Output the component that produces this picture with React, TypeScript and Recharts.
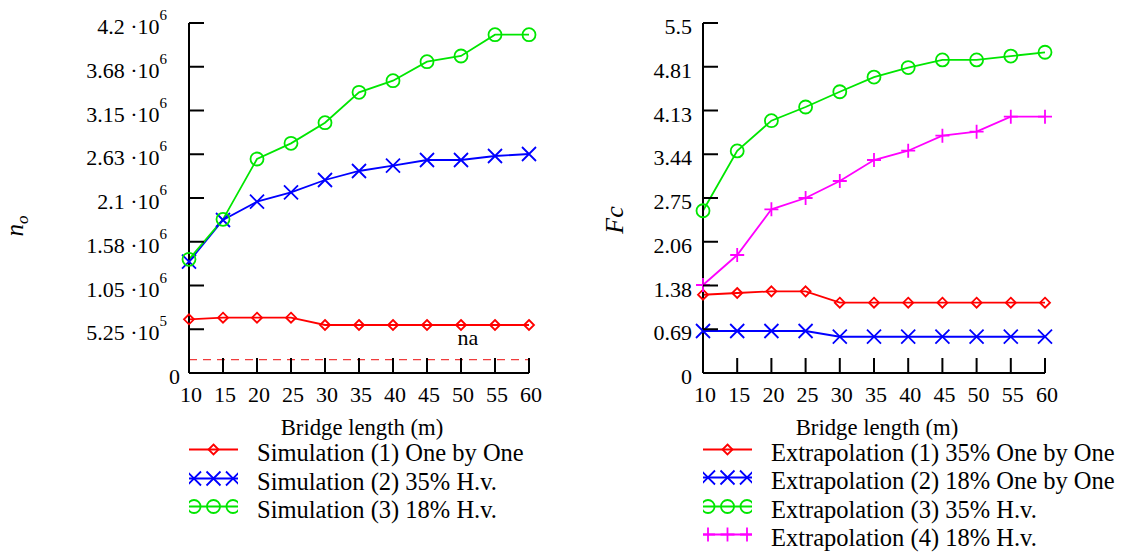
import React from 'react';
import { LineChart, Line, XAxis, YAxis, Legend, ReferenceLine } from 'recharts';

const bridgeLengths = [10, 15, 20, 25, 30, 35, 40, 45, 50, 55, 60];

// left panel, n_o
const simOneByOne = [644000, 664000, 664000, 664000, 576000, 576000, 576000, 576000, 576000, 576000, 576000];
const sim35Hv = [1336000, 1836000, 2056000, 2168000, 2316000, 2424000, 2488000, 2556000, 2556000, 2604000, 2628000];
const sim18Hv = [1364000, 1844000, 2568000, 2756000, 3004000, 3368000, 3508000, 3736000, 3804000, 4060000, 4060000];
const naLevel = 160000;

// right panel, Fc
const ext35OneByOne = [1.23, 1.257, 1.283, 1.283, 1.105, 1.105, 1.105, 1.105, 1.105, 1.105, 1.105];
const ext18OneByOne = [0.66, 0.66, 0.66, 0.66, 0.57, 0.57, 0.57, 0.57, 0.57, 0.57, 0.57];
const ext35Hv = [2.55, 3.49, 3.965, 4.18, 4.42, 4.65, 4.8, 4.92, 4.92, 4.98, 5.04];
const ext18Hv = [1.383, 1.854, 2.572, 2.75, 3.017, 3.347, 3.493, 3.729, 3.792, 4.028, 4.028];

const noTicks = [0, 525000, 1050000, 1575000, 2100000, 2625000, 3150000, 3675000, 4200000];
const noTickMantissas = ['0', '5.25', '1.05', '1.58', '2.1', '2.63', '3.15', '3.68', '4.2'];
const noTickExponents = ['', '5', '6', '6', '6', '6', '6', '6', '6'];
const fcTicks = [0, 0.6875, 1.375, 2.0625, 2.75, 3.4375, 4.125, 4.8125, 5.5];
const fcTickLabels = ['0', '0.69', '1.38', '2.06', '2.75', '3.44', '4.13', '4.81', '5.5'];

const leftData = bridgeLengths.map((len, i) => ({ len, s1: simOneByOne[i], s2: sim35Hv[i], s3: sim18Hv[i] }));
const rightData = bridgeLengths.map((len, i) => ({
  len, e1: ext35OneByOne[i], e2: ext18OneByOne[i], e3: ext35Hv[i], e4: ext18Hv[i],
}));

const FONT = 'Liberation Serif, DejaVu Serif, serif';
const RED = '#ff0000';
const BLUE = '#0000ff';
const GREEN = '#00e600';
const MAGENTA = '#ff00ff';
const TICK_LEN = 15;

const markerOf: Record<string, string> = {
  s1: 'diamond', s2: 'cross', s3: 'circle',
  e1: 'diamond', e2: 'cross', e3: 'circle', e4: 'plus',
};

function Mark({ kind, cx, cy, color }: any) {
  if (cx == null || cy == null) return <g />;
  const sw = 1.8;
  if (kind === 'diamond') {
    const h = 5;
    return <path d={`M${cx},${cy - h}L${cx + h},${cy}L${cx},${cy + h}L${cx - h},${cy}Z`} fill="none" stroke={color} strokeWidth={sw} />;
  }
  if (kind === 'cross') {
    const h = 7;
    return <path d={`M${cx - h},${cy - h}L${cx + h},${cy + h}M${cx - h},${cy + h}L${cx + h},${cy - h}`} stroke={color} strokeWidth={sw} />;
  }
  if (kind === 'plus') {
    const h = 7;
    return <path d={`M${cx - h},${cy}L${cx + h},${cy}M${cx},${cy - h}L${cx},${cy + h}`} stroke={color} strokeWidth={sw} />;
  }
  return <circle cx={cx} cy={cy} r={6.5} fill="none" stroke={color} strokeWidth={sw} />;
}

const dotFor = (kind: string, color: string) => (p: any) => (
  <Mark key={`${kind}-${p.index}`} kind={kind} cx={p.cx} cy={p.cy} color={color} />
);

// bottom axis: label below, tick mark pointing into the plot
const BottomTick = ({ x, y, payload }: any) => (
  <g>
    <line x1={x} y1={y} x2={x} y2={y - TICK_LEN} stroke="#000" strokeWidth={2} />
    <text x={x + 2} y={y + 29} textAnchor="middle" style={{ fontFamily: FONT }} fontSize={22} fill="#000">{payload.value}</text>
  </g>
);
const TopTick = ({ x, y }: any) => <line x1={x} y1={y} x2={x} y2={y + TICK_LEN} stroke="#000" strokeWidth={2} />;
const RightTick = ({ x, y }: any) => <line x1={x} y1={y} x2={x - TICK_LEN} y2={y} stroke="#000" strokeWidth={2} />;

const NoTick = ({ x, y, payload }: any) => {
  const i = noTicks.indexOf(payload.value);
  const exp = noTickExponents[i];
  return (
    <g>
      <line x1={x} y1={y} x2={x + TICK_LEN} y2={y} stroke="#000" strokeWidth={2} />
      <text x={exp ? x - 22 : x - 9} y={y + 11} textAnchor="end" style={{ fontFamily: FONT }} fontSize={22} fill="#000">
        {exp ? `${noTickMantissas[i]} \u00b710` : noTickMantissas[i]}
        {exp ? <tspan dy={-14} fontSize={15}>{exp}</tspan> : null}
      </text>
    </g>
  );
};

const FcTick = ({ x, y, payload }: any) => {
  const i = fcTicks.indexOf(payload.value);
  return (
    <g>
      <line x1={x} y1={y} x2={x + TICK_LEN} y2={y} stroke="#000" strokeWidth={2} />
      <text x={x - 11} y={y + 11} textAnchor="end" style={{ fontFamily: FONT }} fontSize={22} fill="#000">{fcTickLabels[i]}</text>
    </g>
  );
};

const xTitle = ({ viewBox }: any) => (
  <text x={viewBox.x + viewBox.width / 2 + 3} y={viewBox.y + 62} textAnchor="middle" style={{ fontFamily: FONT }} fontSize={22.7} fill="#000">
    Bridge length (m)
  </text>
);

const noTitle = ({ viewBox }: any) => {
  const tx = viewBox.x + 14;
  const ty = viewBox.y + viewBox.height / 2 + 28;
  return (
    <text x={tx} y={ty} transform={`rotate(-90 ${tx} ${ty})`} textAnchor="middle" style={{ fontFamily: FONT }} fontStyle="italic" fontSize={25} fill="#000">
      n<tspan dy={5} fontSize={17}>o</tspan>
    </text>
  );
};

const fcTitle = ({ viewBox }: any) => {
  const tx = viewBox.x + 50;
  const ty = viewBox.y + viewBox.height / 2 + 22;
  return (
    <text x={tx} y={ty} transform={`rotate(-90 ${tx} ${ty})`} textAnchor="middle" style={{ fontFamily: FONT }} fontStyle="italic" fontSize={26} fill="#000">
      Fc
    </text>
  );
};

const naLabel = ({ viewBox }: any) => (
  <text x={viewBox.x + viewBox.width - 61} y={viewBox.y - 15} textAnchor="middle" style={{ fontFamily: FONT }} fontSize={22} fill="#000">
    na
  </text>
);

function LegendRows({ payload, rowH }: any) {
  return (
    <div style={{ fontFamily: FONT, fontSize: 24.5, whiteSpace: 'nowrap', color: '#000' }}>
      {(payload || []).map((entry: any) => {
        const kind = markerOf[entry.dataKey];
        const xs = kind === 'diamond' ? [24.5] : [5, 24.5, 44];
        return (
          <div key={entry.dataKey} style={{ height: rowH, display: 'flex' }}>
            <svg width={49} height={rowH} style={{ flex: 'none' }}>
              <line x1={0} y1={10.5} x2={49} y2={10.5} stroke={entry.color} strokeWidth={1.8} />
              {xs.map((mx) => <Mark key={mx} kind={kind} cx={mx} cy={10.5} color={entry.color} />)}
            </svg>
            <span style={{ marginLeft: 19, lineHeight: `${rowH}px` }}>{entry.value}</span>
          </div>
        );
      })}
    </div>
  );
}

export default function App() {
  return (
    <div style={{ position: 'absolute', left: 0, top: 0, width: 1122, height: 553, background: '#fff', fontFamily: FONT }}>
      <div style={{ position: 'absolute', left: 0, top: 0 }}>
        <LineChart width={561} height={553} data={leftData} margin={{ top: 23, right: 32, bottom: 120, left: 9 }} style={{ fontFamily: FONT }}>
          <XAxis dataKey="len" type="number" domain={[10, 60]} ticks={bridgeLengths} interval={0}
            height={60} tickSize={0} tickMargin={0} tick={BottomTick}
            axisLine={{ stroke: '#000', strokeWidth: 2 }} label={{ content: xTitle }} />
          <XAxis xAxisId="top" orientation="top" dataKey="len" type="number" domain={[10, 60]} ticks={bridgeLengths}
            interval={0} height={0} tickSize={0} tickMargin={0} tick={TopTick} axisLine={{ stroke: '#000', strokeWidth: 2 }} />
          <YAxis type="number" domain={[0, 4200000]} ticks={noTicks} interval={0} width={180}
            tickSize={0} tickMargin={0} tick={NoTick} axisLine={{ stroke: '#000', strokeWidth: 2 }} label={{ content: noTitle }} />
          <YAxis yAxisId="right" orientation="right" type="number" domain={[0, 4200000]} ticks={noTicks} interval={0}
            width={0} tickSize={0} tickMargin={0} tick={RightTick} axisLine={{ stroke: '#000', strokeWidth: 2 }} />
          <ReferenceLine y={naLevel} stroke="#f03c3c" strokeWidth={1.2} strokeDasharray="8 6" label={{ content: naLabel }} />
          <Line dataKey="s1" name="Simulation (1) One by One" stroke={RED} strokeWidth={1.8} dot={dotFor('diamond', RED)} isAnimationActive={false} />
          <Line dataKey="s2" name="Simulation (2) 35% H.v." stroke={BLUE} strokeWidth={1.8} dot={dotFor('cross', BLUE)} isAnimationActive={false} />
          <Line dataKey="s3" name="Simulation (3) 18% H.v." stroke={GREEN} strokeWidth={1.8} dot={dotFor('circle', GREEN)} isAnimationActive={false} />
          <Legend layout="horizontal" verticalAlign="middle" align="center"
            wrapperStyle={{ top: 439, left: 189, width: 360 }}
            content={(p: any) => <LegendRows payload={p.payload} rowH={28.5} />} />
        </LineChart>
      </div>
      <div style={{ position: 'absolute', left: 561, top: 0 }}>
        <LineChart width={561} height={553} data={rightData} margin={{ top: 23, right: 77, bottom: 120, left: 12 }} style={{ fontFamily: FONT }}>
          <XAxis dataKey="len" type="number" domain={[10, 60]} ticks={bridgeLengths} interval={0}
            height={60} tickSize={0} tickMargin={0} tick={BottomTick}
            axisLine={{ stroke: '#000', strokeWidth: 2 }} label={{ content: xTitle }} />
          <XAxis xAxisId="top" orientation="top" dataKey="len" type="number" domain={[10, 60]} ticks={bridgeLengths}
            interval={0} height={0} tickSize={0} tickMargin={0} tick={TopTick} axisLine={{ stroke: '#000', strokeWidth: 2 }} />
          <YAxis type="number" domain={[0, 5.5]} ticks={fcTicks} interval={0} width={130}
            tickSize={0} tickMargin={0} tick={FcTick} axisLine={{ stroke: '#000', strokeWidth: 2 }} label={{ content: fcTitle }} />
          <YAxis yAxisId="right" orientation="right" type="number" domain={[0, 5.5]} ticks={fcTicks} interval={0}
            width={0} tickSize={0} tickMargin={0} tick={RightTick} axisLine={{ stroke: '#000', strokeWidth: 2 }} />
          <Line dataKey="e1" name="Extrapolation (1) 35% One by One" stroke={RED} strokeWidth={1.8} dot={dotFor('diamond', RED)} isAnimationActive={false} />
          <Line dataKey="e2" name="Extrapolation (2) 18% One by One" stroke={BLUE} strokeWidth={1.8} dot={dotFor('cross', BLUE)} isAnimationActive={false} />
          <Line dataKey="e3" name="Extrapolation (3) 35% H.v." stroke={GREEN} strokeWidth={1.8} dot={dotFor('circle', GREEN)} isAnimationActive={false} />
          <Line dataKey="e4" name="Extrapolation (4) 18% H.v." stroke={MAGENTA} strokeWidth={1.8} dot={dotFor('plus', MAGENTA)} isAnimationActive={false} />
          <Legend layout="horizontal" verticalAlign="middle" align="center"
            wrapperStyle={{ top: 439, left: 142, width: 420 }}
            content={(p: any) => <LegendRows payload={p.payload} rowH={28.3} />} />
        </LineChart>
      </div>
    </div>
  );
}
